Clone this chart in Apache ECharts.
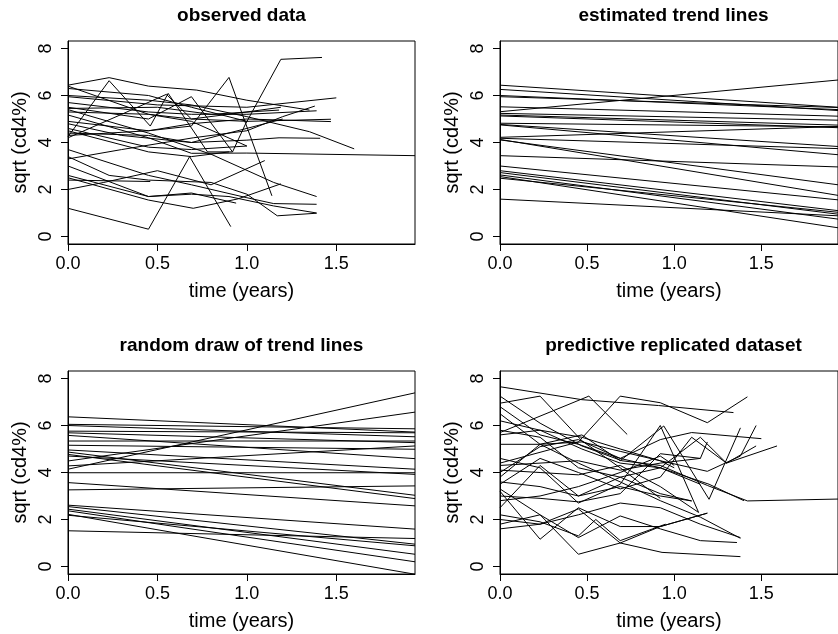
<!DOCTYPE html>
<html><head><meta charset="utf-8">
<script src="https://cdn.jsdelivr.net/npm/echarts@6/dist/echarts.min.js"></script>
<style>html,body{margin:0;padding:0;background:#fff}#c{width:838px;height:634px}</style>
</head><body><div id="c"></div>
<script>
// ---------- data ----------
const panelTitles = ['observed data', 'estimated trend lines', 'random draw of trend lines', 'predictive replicated dataset'];
const xTicks = [0, 0.5, 1, 1.5];
const yTicks = [0, 2, 4, 6, 8];
const xLabel = 'time (years)';
const yLabel = 'sqrt (cd4%)';

// observed data: each subject = list of [time, sqrt(cd4%)]
const observed = [
  [[0,1.2],[0.45,0.31],[0.68,3.4],[0.91,0.42]],
  [[0,6.44],[0.23,6.76],[0.45,6.4],[0.72,6.23],[1.0,5.8],[1.35,5.38]],
  [[0,4.25],[0.23,6.63],[0.46,4.7],[0.56,6.09],[0.78,3.6],[0.92,3.6]],
  [[0,4.3],[0.45,4.5],[0.69,4.7],[0.9,6.77],[1.14,1.73]],
  [[0,5.5],[0.45,5.0],[0.69,5.95],[0.92,3.6],[0.99,4.75],[1.19,7.54],[1.42,7.62]],
  [[0,5.17],[0.45,4.2],[0.69,3.54],[1.0,3.55],[1.94,3.44]],
  [[0,6.0],[0.45,5.8],[0.69,5.6],[1.0,5.1],[1.35,4.46],[1.6,3.73]],
  [[0,5.95],[0.5,5.6],[1.0,5.5],[1.5,5.9]],
  [[0,5.3],[0.45,5.2],[0.69,5.0],[1.0,4.9],[1.47,4.99]],
  [[0,4.9],[0.45,4.5],[0.69,4.8],[1.0,5.0],[1.47,4.89]],
  [[0,4.4],[0.45,4.3],[0.69,4.0],[1.0,4.1],[1.18,4.2],[1.41,4.18]],
  [[0,5.7],[0.45,5.3],[0.69,5.2],[1.0,5.2],[1.39,5.35]],
  [[0,5.45],[0.5,5.5],[0.8,5.2],[1.18,5.38]],
  [[0,2.4],[0.46,2.34]],
  [[0,2.0],[0.2,2.3],[0.5,2.8],[0.8,2.2],[1.1,3.23]],
  [[0,2.6],[0.45,1.7],[0.69,1.85],[0.94,1.42]],
  [[0,4.6],[0.45,3.8],[0.69,3.7],[1.0,3.85]],
  [[0,3.3],[0.3,3.7],[0.7,4.2],[1.0,4.5],[1.2,5.1],[1.38,5.55]],
  [[0,5.4],[0.45,4.4],[0.8,3.5],[1.15,2.3],[1.39,1.7]],
  [[0,3.7],[0.45,2.6],[0.69,2.2],[1.0,1.65],[1.15,1.4],[1.39,1.37]],
  [[0,3.4],[0.23,2.6],[0.45,2.4],[0.8,2.3],[1.0,1.8],[1.17,0.88],[1.39,0.99]],
  [[0,2.5],[0.45,1.55],[0.7,1.2],[0.95,1.6],[1.19,2.24]],
  [[0,3.0],[0.45,1.7],[0.69,1.8],[0.9,1.7],[1.15,1.3],[1.39,1.0]],
  [[0,4.8],[0.3,4.3],[0.69,4.0],[1.0,4.6],[1.2,5.0]],
  [[0,4.2],[0.3,5.2],[0.55,6.05],[0.69,5.0],[1.0,5.3],[1.19,5.5]],
  [[0,6.3],[0.45,6.0],[0.69,5.5],[1.0,4.9]],
  [[0,4.5],[0.45,3.6],[0.69,3.4],[0.9,3.6]],
  [[0,6.4],[0.45,5.2],[0.69,4.9],[1.0,3.85]]
];

// estimated trend lines: value at t = 0 and t = 1.94
const trendTimes = [0, 1.94];
const trendStart = [6.44,6.26,6.0,5.95,5.31,5.52,5.24,5.17,5.13,4.82,4.77,4.75,4.22,4.18,4.13,4.11,3.44,3.0,2.8,2.72,2.62,2.55,2.48,1.59];
const trendEnd   = [5.50,5.36,5.40,5.49,6.66,5.12,4.95,4.74,4.63,4.67,3.83,3.48,4.68,3.74,1.75,2.20,2.96,1.56,1.10,0.95,0.74,0.37,1.03,0.88];

// random draw of trend lines: value at t = 0 and t = 1.94
const drawTimes = [0, 1.94];
const drawStart = [4.14,4.49,6.37,6.05,6.0,5.76,5.69,5.58,5.34,5.16,4.96,4.87,4.77,4.70,4.28,3.99,3.57,3.26,2.61,2.55,2.44,2.37,2.22,2.18,1.52];
const drawEnd   = [7.39,6.57,5.72,5.86,5.52,5.69,5.27,4.59,5.34,4.99,4.14,3.03,2.89,3.92,5.13,3.99,2.58,3.43,1.59,0.95,0.52,0.20,-0.33,0.88,1.19];

// predictive replicated dataset
const replicated = [
  [[0,7.65],[0.47,7.1],[0.91,6.85],[1.34,6.55]],
  [[0,7.25],[0.23,6.1],[0.47,5.13],[0.7,4.5],[0.92,4.3],[1.19,3.45],[1.42,2.79],[1.94,2.87]],
  [[0,6.95],[0.23,7.25],[0.47,5.35],[0.69,4.2],[0.92,2.9]],
  [[0,5.7],[0.51,7.25],[0.73,5.62]],
  [[0,4.4],[0.45,5.3],[0.69,7.25],[0.92,6.97],[1.19,6.12],[1.42,7.22]],
  [[0,5.6],[0.23,5.8],[0.47,5.5],[0.69,5.0],[0.92,4.5],[1.19,4.05],[1.38,4.7],[1.47,6.0]],
  [[0,3.8],[0.23,5.2],[0.47,5.6],[0.69,4.5],[0.94,5.98],[1.2,2.86],[1.38,5.9]],
  [[0,3.5],[0.23,4.6],[0.45,4.0],[0.69,3.3],[0.92,3.8],[1.1,5.5],[1.3,4.4],[1.59,5.13]],
  [[0,4.0],[0.23,5.1],[0.45,5.4],[0.69,4.6],[0.92,5.4],[1.1,5.7],[1.5,5.44]],
  [[0,6.2],[0.23,5.8],[0.47,5.0],[0.69,4.4],[0.92,4.2],[1.15,5.5],[1.3,4.4],[1.47,5.13]],
  [[0,3.0],[0.23,2.9],[0.45,2.75],[0.69,3.1],[0.92,4.8],[1.15,4.6]],
  [[0,2.0],[0.23,1.8],[0.45,2.2],[0.69,2.7],[0.92,2.5],[1.15,1.8],[1.38,1.23]],
  [[0,1.8],[0.23,2.2],[0.45,1.23],[0.69,2.15],[0.92,1.6],[1.15,1.1],[1.36,1.02]],
  [[0,3.2],[0.23,1.16],[0.45,2.5],[0.69,1.7],[0.92,1.7],[1.19,2.27]],
  [[0,3.3],[0.23,2.2],[0.45,0.52],[0.69,1.0],[0.93,0.6],[1.38,0.42]],
  [[0,2.2],[0.23,1.9],[0.45,1.3],[0.55,2.0],[0.69,1.1],[0.95,1.8]],
  [[0,5.2],[0.23,5.2],[0.47,5.3],[0.69,4.9],[0.92,4.5],[1.0,4.2]],
  [[0,4.6],[0.23,4.2],[0.45,2.7],[0.69,3.5],[0.92,6.0],[1.14,2.3]],
  [[0,2.5],[0.23,4.3],[0.45,3.0],[0.69,3.8],[0.92,4.2],[1.15,3.5]],
  [[0,6.5],[0.23,5.2],[0.45,4.4],[0.69,3.6],[0.92,2.8],[1.15,2.1],[1.38,1.2]],
  [[0,5.8],[0.23,5.5],[0.45,4.2],[0.69,3.8],[0.92,3.1],[1.1,2.79]],
  [[0,4.3],[0.23,4.4],[0.45,4.5],[0.69,4.1],[0.92,4.4],[1.15,4.6],[1.19,5.3]],
  [[0,1.6],[0.23,1.8],[0.45,2.45],[0.69,1.0],[0.92,1.7],[1.19,2.27]],
  [[0,3.6],[0.23,3.4],[0.45,3.0],[0.69,3.4],[0.92,3.0],[1.1,2.79]],
  [[0,6.8],[0.23,5.6],[0.45,5.2],[0.69,4.6],[0.92,4.2],[1.2,3.5],[1.4,2.8]],
  [[0,4.1],[0.23,4.0],[0.45,3.9],[0.69,4.3],[0.92,3.4],[1.14,2.3]],
  [[0,2.8],[0.23,3.0],[0.45,3.4],[0.69,4.0],[0.92,4.7],[1.0,4.3]]
];

// ---------- chart ----------
const FONT = 'Liberation Sans, Arial, Helvetica, sans-serif';
const TICK_FS = 18, LAB_FS = 20, MAIN_FS = 19;
const gridPos = [
  {left: 68, top: 41}, {left: 500, top: 41},
  {left: 68, top: 371}, {left: 500, top: 371}
];
const GW = 347, GH = 203;

const grids = gridPos.map(p => ({left: p.left, top: p.top, width: GW, height: GH,
  show: true, borderColor: '#000', borderWidth: 1, backgroundColor: 'transparent', containLabel: false}));

const xAxes = gridPos.map((p, i) => ({
  type: 'value', gridIndex: i, min: 0, max: 1.94,
  axisLine: {show: true, onZero: false, lineStyle: {color: '#000', width: 1}},
  axisTick: {show: true, inside: false, length: 7, lineStyle: {color: '#000'}, customValues: xTicks},
  axisLabel: {color: '#000', fontSize: TICK_FS, fontFamily: FONT, margin: 11, customValues: xTicks,
    formatter: v => v.toFixed(1)},
  splitLine: {show: false},
  name: xLabel, nameLocation: 'middle', nameGap: 37,
  nameTextStyle: {color: '#000', fontSize: LAB_FS, fontFamily: FONT}
}));

const yAxes = gridPos.map((p, i) => ({
  type: 'value', gridIndex: i, min: -0.32, max: 8.32,
  axisLine: {show: true, onZero: false, lineStyle: {color: '#000', width: 1}},
  axisTick: {show: true, inside: false, length: 7, lineStyle: {color: '#000'}, customValues: yTicks},
  axisLabel: {color: '#000', fontSize: TICK_FS, fontFamily: FONT, margin: 13, rotate: 90, customValues: yTicks},
  splitLine: {show: false},
  name: yLabel, nameLocation: 'middle', nameGap: 38, nameRotate: 90,
  nameTextStyle: {color: '#000', fontSize: LAB_FS, fontFamily: FONT}
}));

const titles = gridPos.map((p, i) => ({
  text: panelTitles[i], left: p.left + GW / 2, top: p.top - 35, textAlign: 'center', padding: 0,
  textStyle: {color: '#000', fontSize: MAIN_FS, fontWeight: 'bold', fontFamily: FONT}
}));

const series = [];
function addLine(idx, data) {
  series.push({type: 'line', xAxisIndex: idx, yAxisIndex: idx, data: data, showSymbol: false,
    symbol: 'none', silent: true, animation: false, clip: true,
    lineStyle: {color: '#000', width: 1}});
}
observed.forEach(s => addLine(0, s));
trendStart.forEach((v, k) => addLine(1, [[trendTimes[0], v], [trendTimes[1], trendEnd[k]]]));
drawStart.forEach((v, k) => addLine(2, [[drawTimes[0], v], [drawTimes[1], drawEnd[k]]]));
replicated.forEach(s => addLine(3, s));

const chart = echarts.init(document.getElementById('c'), null, {renderer: 'canvas'});
chart.setOption({
  animation: false, backgroundColor: '#fff',
  title: titles, grid: grids, xAxis: xAxes, yAxis: yAxes, series: series
});
</script></body></html>
